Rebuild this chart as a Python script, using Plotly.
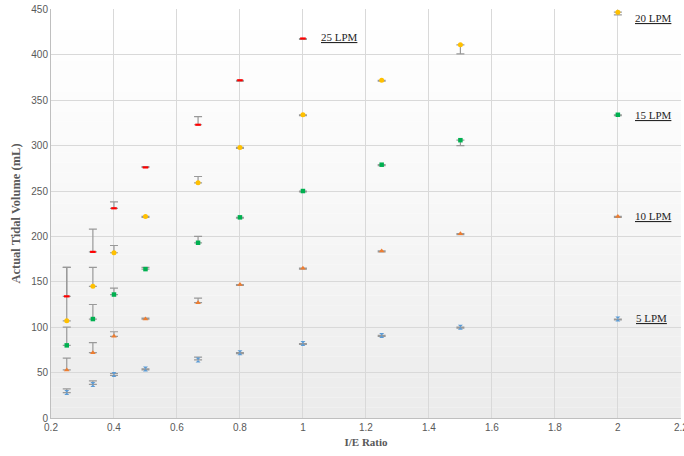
import plotly.graph_objects as go

x_ratio = [0.25, 0.333, 0.4, 0.5, 0.667, 0.8, 1, 1.25, 1.5, 2]

lpm5 = [28, 37, 48, 54, 64, 72, 82, 91, 100, 109]
lpm5_plus = [4, 4, 1, 0, 3, 0, 0, 0, 0, 0]
lpm5_minus = [0, 0, 1, 1, 0, 1, 1, 1, 1, 1]

lpm10 = [53, 72, 90, 109, 127, 147, 165, 184, 203, 222]
lpm10_plus = [13, 11, 5, 1, 5, 0, 0, 0, 0, 0]
lpm10_minus = [0, 0, 0, 0, 0, 1, 1, 1, 1, 1]

lpm15 = [80, 109, 136, 164, 193, 221, 250, 279, 306, 334]
lpm15_plus = [20, 16, 7, 2, 7, 0, 0, 0, 0, 0]
lpm15_minus = [0, 0, 0, 0, 0, 1, 1, 1, 6, 1]

lpm20 = [107, 145, 182, 222, 259, 298, 334, 372, 411, 447]
lpm20_plus = [59, 21, 8, 0, 7, 0, 0, 0, 0, 0]
lpm20_minus = [0, 0, 0, 1, 0, 1, 1, 1, 10, 3]

x25 = [0.25, 0.333, 0.4, 0.5, 0.667, 0.8, 1]
lpm25 = [134, 183, 231, 276, 323, 372, 418]
lpm25_plus = [32, 25, 7, 1, 9, 0, 0]
lpm25_minus = [0, 0, 0, 0, 0, 1, 1]

x_ticks = [0.2, 0.4, 0.6, 0.8, 1.0, 1.2, 1.4, 1.6, 1.8, 2.0, 2.2]
x_ticklabels = ["0.2", "0.4", "0.6", "0.8", "1", "1.2", "1.4", "1.6", "1.8", "2", "2.2"]

labels = ["5 LPM", "10 LPM", "15 LPM", "20 LPM", "25 LPM"]
label_x = [2.05, 2.047, 2.047, 2.047, 1.05]
label_y = [110, 222, 334, 441, 420]

series = [
    (x_ratio, lpm5, lpm5_plus, lpm5_minus, "#5b9bd5", "hourglass", 5),
    (x_ratio, lpm10, lpm10_plus, lpm10_minus, "#ed7d31", "triangle-up", 5),
    (x_ratio, lpm15, lpm15_plus, lpm15_minus, "#00b050", "square", 4.5),
    (x_ratio, lpm20, lpm20_plus, lpm20_minus, "#ffc000", "circle", 5),
    (x25, lpm25, lpm25_plus, lpm25_minus, "#ff0000", "line-ew", 4),
]

fig = go.Figure()

# gradient plot background
n = 40
for i in range(n):
    y0 = 450 * i / n
    y1 = 450 * (i + 1) / n
    t = 1 - (i + 0.5) / n  # 1 at bottom, 0 at top
    g = int(round(255 - 20 * (t ** 1.3)))
    fig.add_shape(type="rect", xref="x", yref="y", x0=0.2, x1=2.2, y0=y0, y1=y1,
                  fillcolor=f"rgb({g},{g},{g})", line_width=0, layer="below")

for xs, ys, plus, minus, color, sym, size in series:
    marker = dict(color=color, symbol=sym, size=size)
    if sym == "line-ew":
        marker["line"] = dict(color=color, width=2.2)
    fig.add_trace(go.Scatter(
        x=xs, y=ys, mode="markers", marker=marker,
        error_y=dict(type="data", symmetric=False, array=plus, arrayminus=minus,
                     color="#999999", thickness=1.2, width=4),
        showlegend=False, cliponaxis=False,
    ))

for lab, lx, ly in zip(labels, label_x, label_y):
    fig.add_annotation(x=lx, y=ly, text=f"<u>{lab}</u>", showarrow=False,
                       xanchor="left", yanchor="middle",
                       font=dict(family="Liberation Serif", size=11, color="#262626"))

fig.update_layout(
    width=684, height=456,
    margin=dict(l=51, r=3, t=9, b=38, autoexpand=False),
    paper_bgcolor="white", plot_bgcolor="rgba(0,0,0,0)",
    showlegend=False,
)
fig.update_xaxes(range=[0.2, 2.2005], tickmode="array", tickvals=x_ticks, ticktext=x_ticklabels,
                 ticklabeloverflow="allow", automargin=False,
                 showgrid=True, gridcolor="#d9d9d9", gridwidth=1.3, zeroline=False,
                 showline=True, linecolor="#bfbfbf", mirror=False,
                 ticks="", tickfont=dict(family="Liberation Sans Narrow, Liberation Sans", size=10, color="#595959"),
                 title=dict(text="<b>I/E Ratio</b>", standoff=6,
                            font=dict(family="Liberation Serif", size=11, color="#595959")))
fig.update_yaxes(range=[0, 450.5], dtick=50, showgrid=True, automargin=False,
                 gridcolor="#d9d9d9", gridwidth=1.3, zeroline=False,
                 showline=True, linecolor="#bfbfbf",
                 ticks="", tickfont=dict(family="Liberation Sans", size=10, color="#595959"),
                 title=dict(text="<b>Actual Tidal Volume (mL)</b>", standoff=7,
                            font=dict(family="Liberation Serif", size=12.5, color="#595959")))

fig.write_html("out.html")
